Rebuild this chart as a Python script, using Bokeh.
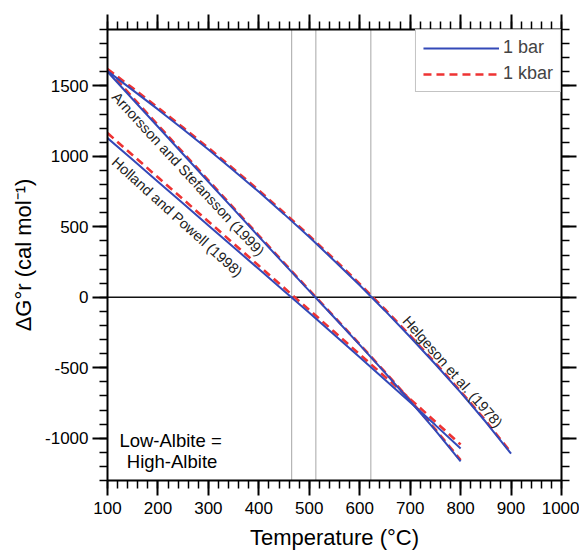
from bokeh.plotting import figure
from bokeh.models import (LinearAxis, SingleIntervalTicker, Span, Legend,
                          LegendItem, Label, Range1d, PrintfTickFormatter)
from bokeh.embed import file_html
from bokeh.resources import INLINE

# Temperatures (°C) and ΔG°r (cal/mol) for Low-Albite = High-Albite
temp_helgeson = [100, 150, 200, 250, 300, 350, 400, 450, 500, 550,
                 600, 650, 700, 750, 800, 850, 900]
helgeson_1bar = [1605, 1470, 1333, 1192, 1048, 900, 748, 590, 427, 258,
                 85, -95, -282, -475, -675, -885, -1110]
helgeson_1kbar = [1620, 1484, 1346, 1204, 1060, 911, 758, 600, 437, 268,
                  95, -85, -272, -466, -667, -877, -1102]

temp_800 = [100, 150, 200, 250, 300, 350, 400, 450, 500, 550,
            600, 650, 700, 750, 800]
arnorsson_1bar = [1600, 1405, 1210, 1015, 820, 625, 430, 237, 45, -145,
                  -338, -535, -737, -945, -1165]
arnorsson_1kbar = [1615, 1418, 1222, 1026, 830, 634, 438, 244, 51, -140,
                   -333, -530, -730, -937, -1155]
holland_1bar = [1130, 975, 820, 665, 510, 355, 200, 45, -110, -267,
                -425, -585, -745, -907, -1073]
holland_1kbar = [1165, 1008, 851, 695, 538, 381, 224, 67, -90, -247,
                 -405, -563, -722, -883, -1045]

# equilibrium temperatures (ΔG°r = 0 at 1 bar)
zero_crossings = [465, 513, 622]

FONT = "Liberation Sans"
BLUE = "#3349b8"
RED = "#ee3333"

p = figure(width=579, height=552,
           x_range=Range1d(100, 1000), y_range=Range1d(-1300, 1900),
           output_backend="svg", toolbar_location=None,
           min_border_left=107, min_border_right=18,
           min_border_top=29, min_border_bottom=71)
p.xgrid.visible = False
p.ygrid.visible = False
p.outline_line_color = None
p.background_fill_color = "white"
p.border_fill_color = "white"

x_ticker = SingleIntervalTicker(interval=100, num_minor_ticks=5)
y_ticker = SingleIntervalTicker(interval=500, num_minor_ticks=5)


def style_axis(ax, show_labels=True):
    ax.axis_line_width = 2
    ax.axis_line_color = "black"
    ax.major_tick_line_width = 2
    ax.minor_tick_line_width = 1.5
    ax.major_tick_line_color = "black"
    ax.minor_tick_line_color = "black"
    ax.major_tick_in = 0
    ax.major_tick_out = 15
    ax.minor_tick_in = 0
    ax.minor_tick_out = 8
    ax.major_label_text_font = FONT
    ax.axis_label_text_font = FONT
    ax.axis_label_text_font_style = "normal"
    ax.axis_label_text_color = "black"
    ax.formatter = PrintfTickFormatter(format="%d")
    if show_labels:
        ax.major_label_text_color = "black"
        ax.major_label_text_font_size = "17px"
        ax.major_label_standoff = 5
    else:
        # tick marks only on the opposite sides of the frame
        ax.major_label_text_color = None
        ax.major_label_text_font_size = "1px"
        ax.major_label_standoff = 0


p.xaxis.ticker = x_ticker
p.yaxis.ticker = y_ticker
style_axis(p.xaxis[0])
style_axis(p.yaxis[0])
p.xaxis.axis_label = "Temperature (°C)"
p.yaxis.axis_label = "ΔG°r (cal mol⁻¹)"
p.xaxis.axis_label_text_font_size = "22px"
p.yaxis.axis_label_text_font_size = "22px"
p.xaxis.major_label_standoff = 6
p.yaxis.major_label_standoff = 4
p.xaxis.axis_label_standoff = 8
p.yaxis.axis_label_standoff = 6

top_axis = LinearAxis(ticker=x_ticker)
style_axis(top_axis, show_labels=False)
p.add_layout(top_axis, "above")
right_axis = LinearAxis(ticker=y_ticker)
style_axis(right_axis, show_labels=False)
p.add_layout(right_axis, "right")

# reference lines
for t in zero_crossings:
    p.add_layout(Span(location=t, dimension="height", line_color="#b5b5b5",
                      line_width=1.2, level="underlay"))
p.add_layout(Span(location=0, dimension="width", line_color="#111111",
                  line_width=1.6, level="underlay"))

# 1 kbar (dashed red) underneath, 1 bar (solid blue) on top
dash = "8 5"
r_red = p.line(temp_helgeson, helgeson_1kbar, line_color=RED, line_width=2.6,
               line_dash=dash)
p.line(temp_800, arnorsson_1kbar, line_color=RED, line_width=2.6, line_dash=dash)
p.line(temp_800, holland_1kbar, line_color=RED, line_width=2.6, line_dash=dash)
r_blue = p.line(temp_helgeson, helgeson_1bar, line_color=BLUE, line_width=2)
p.line(temp_800, arnorsson_1bar, line_color=BLUE, line_width=2)
p.line(temp_800, holland_1bar, line_color=BLUE, line_width=2)

legend = Legend(items=[LegendItem(label="1 bar", renderers=[r_blue]),
                       LegendItem(label="1 kbar", renderers=[r_red])],
                location="top_right", margin=0, padding=7, spacing=5,
                glyph_width=76, glyph_height=20, label_height=20,
                label_standoff=4, label_text_font_size="18px",
                label_text_font=FONT, border_line_color="#888888",
                border_line_width=1, background_fill_color="white",
                background_fill_alpha=1)
p.add_layout(legend)

# curve labels along the lines
label_style = dict(text_font=FONT, text_font_size="14.5px", text_color="#222222",
                   text_align="left", text_baseline="middle")
p.add_layout(Label(x=114, y=1440, text="Arnorsson and Stefansson (1999)",
                   angle=-0.825, **label_style))
p.add_layout(Label(x=113, y=975, text="Holland and Powell (1998)",
                   angle=-0.735, **label_style))
p.add_layout(Label(x=691, y=-148, text="Helgeson et al. (1978)",
                   angle=-0.850, **label_style))

note_style = dict(text_font=FONT, text_font_size="18.5px", text_color="black",
                  text_align="center", text_baseline="middle")
p.add_layout(Label(x=225, y=-1016, text="Low-Albite =", **note_style))
p.add_layout(Label(x=228, y=-1163, text="High-Albite", **note_style))

open("out.html", "w").write(file_html(p, INLINE))
